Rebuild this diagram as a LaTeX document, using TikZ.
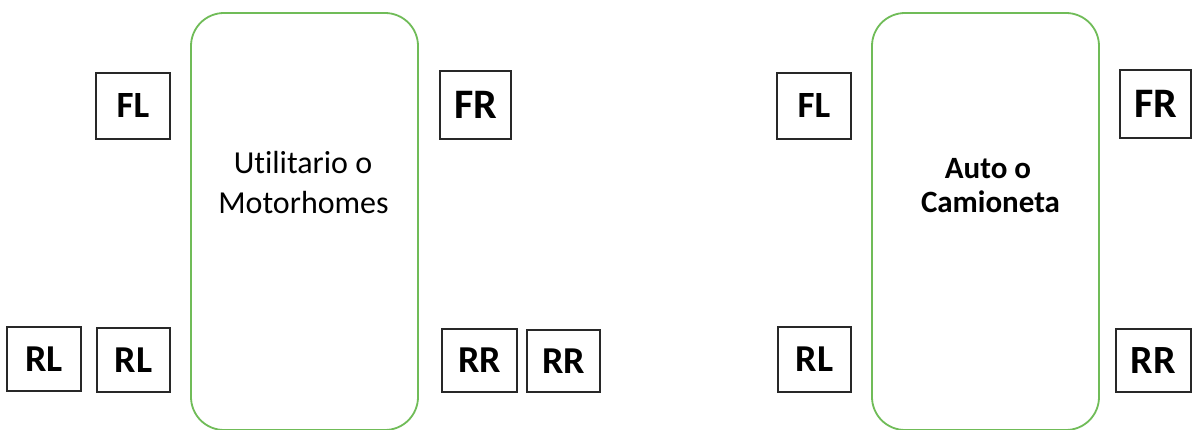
\documentclass[tikz,border=0pt]{standalone}
\usepackage{fontspec}
\setmainfont{Carlito}[Ligatures={NoCommon,TeX}]
\definecolor{bodygreen}{RGB}{112,188,88}
\definecolor{boxline}{RGB}{40,40,40}
\begin{document}
\begin{tikzpicture}[x=1pt,y=-1pt,
  wheel/.style={draw=boxline,line width=1.8pt,fill=white,inner sep=0pt,
    minimum width=#1,font=\bfseries\fontsize{38}{40}\selectfont},
  wheel/.default=74pt,
  body/.style={draw=bodygreen,line width=1.8pt,rounded corners=33pt,
    minimum width=227pt,minimum height=417pt,inner sep=0pt},
  lbl/.style={anchor=base,inner sep=0pt}]
\useasboundingbox (0,0) rectangle (1192,430);
\fill[white] (0,0) rectangle (1192,430);

% utility / motorhome layout (dual rear wheels)
\node[body] (bodyA) at (304.5,221.5) {};
\node[lbl,font=\fontsize{32}{40}\selectfont] (tA1) at (303,174) {Utilitario o};
\node[lbl,font=\fontsize{32}{40}\selectfont] (tA2) at (303.5,214) {Motorhomes};

\node[wheel=74pt,minimum height=66pt,font=\bfseries\fontsize{37}{40}\selectfont] (FLa) at (133,106) {FL};
\node[wheel=71pt,minimum height=68pt,font=\bfseries\fontsize{42}{44}\selectfont] (FRa) at (475.5,105) {FR};
\node[wheel=74pt,minimum height=64pt] (RLa1) at (44,359) {RL};
\node[wheel=73pt,minimum height=64pt] (RLa2) at (133.5,360) {RL};
\node[wheel=75pt,minimum height=63pt] (RRa1) at (479.5,360.5) {RR};
\node[wheel=73pt,minimum height=62pt] (RRa2) at (563.5,361) {RR};

% car / pickup layout
\node[body] (bodyB) at (985.5,221.5) {};
\node[lbl,font=\bfseries\fontsize{31}{34}\selectfont] (tB1) at (988,179) {Auto o};
\node[lbl,font=\bfseries\fontsize{31}{34}\selectfont] (tB2) at (990.5,213) {Camioneta};

\node[wheel=74pt,minimum height=66pt,font=\bfseries\fontsize{37}{40}\selectfont] (FLb) at (814,106) {FL};
\node[wheel=71pt,minimum height=68pt,font=\bfseries\fontsize{42}{44}\selectfont] (FRb) at (1155.5,104) {FR};
\node[wheel=73pt,minimum height=65pt] (RLb) at (814.5,359.5) {RL};
\node[wheel=75pt,minimum height=63pt,font=\bfseries\fontsize{40}{42}\selectfont] (RRb) at (1153.5,360.5) {RR};
\end{tikzpicture}
\end{document}
